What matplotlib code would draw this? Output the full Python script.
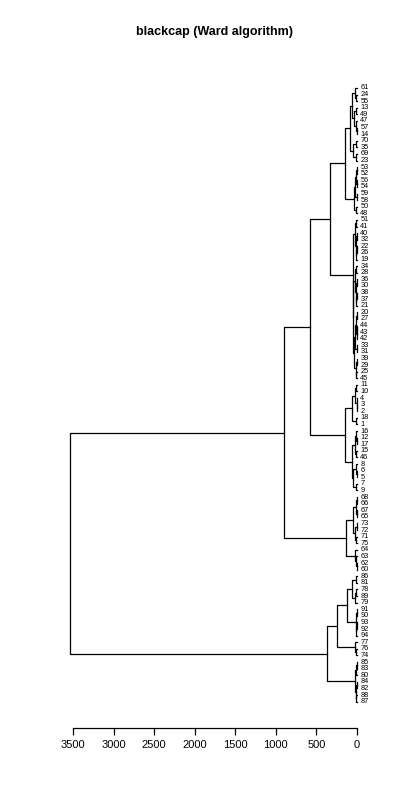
import matplotlib
matplotlib.use("Agg")
import matplotlib.pyplot as plt

plt.rcParams["font.family"] = ["Liberation Sans", "DejaVu Sans"]

# merge tree: (height, left, right); leaves are bird numbers
A1a = (85, (60, (25, 61, (8, 24, 55)), (40, (10, 13, 49), (18, 47, (5, 57, 14)))),
       (50, (15, 70, 35), (12, 69, 23)))
A1b = (35, (22, (15, (5, 53, 52), (6, 56, 54)), (4, 59, 58)), (10, 50, 48))
A2a = (30, (8, 51, 41), (18, (6, 40, 32), (10, (4, 22, 26), 19)))
A2b = (45, (25, (10, 34, 28), (15, (4, 36, 30), (8, (3, 38, 37), 21))),
       (35, (20, (12, (5, 20, 27), (6, (3, 44, 43), 42)), (4, 33, 31)),
        (15, (6, 39, 29), (7, 25, 45))))
A = (333, (150, A1a, A1b), (50, A2a, A2b))

B1 = (60, (25, (10, 11, 10), (5, 4, (2, 3, 2))), (15, 18, 1))
B2 = (60, (30, (12, 16, (5, 12, 17)), (8, 15, 46)), (45, (10, 8, (4, 6, 5)), (15, 7, 9)))
B = (148, B1, B2)

C1 = (50, (12, (5, 68, 66), (6, 67, 65)), (25, (5, 73, 72), (10, 71, 75)))
C2 = (25, 64, (10, 63, (4, 62, 60)))
C = (140, C1, C2)

D1a = (120, (65, (15, 86, 81), (30, (10, 78, 89), 79)),
       (15, (5, 91, 90), (8, (4, 93, 92), 94)))
D1b = (20, 77, (8, 76, 74))
D2 = (20, (10, (6, 85, 83), 80), (12, (4, 84, 82), (8, 88, 87)))
D = (375, (250, D1a, D1b), D2)

root = (3540, (900, (580, A, B), C), D)

xticks = [0, 500, 1000, 1500, 2000, 2500, 3000, 3500]

fig = plt.figure(figsize=(4, 8), dpi=100)
ax = fig.add_axes([55 / 400, 72 / 800, 310 / 400, 648 / 800])

counter = [0]


def draw(node):
    if isinstance(node, int):
        y = counter[0]
        counter[0] += 1
        ax.text(-40, y, str(node), fontsize=5.3, ha="left", va="center")
        return y, 0
    h, left, right = node
    yl, hl = draw(left)
    yr, hr = draw(right)
    ax.plot([hl, h, h, hr], [yl, yl, yr, yr], color="black", lw=0.9)
    return (yl + yr) / 2, h


draw(root)

px = 0.0811  # pixels per height unit
ax.set_xlim((357 - 55) / px, (357 - 365) / px)
ax.set_ylim(97.0, -1.21)
ax.set_yticks([])
ax.set_xticks(xticks)
ax.set_xticklabels([str(t) for t in xticks], fontsize=8)
ax.tick_params(axis="x", length=5, width=0.9, pad=4)
for s in ["left", "right", "top"]:
    ax.spines[s].set_visible(False)
ax.spines["bottom"].set_bounds(0, 3500)
ax.spines["bottom"].set_linewidth(0.9)

fig.text(214 / 400, 1 - 32 / 800, "blackcap (Ward algorithm)", fontsize=9,
         fontweight="bold", ha="center", va="center")

fig.savefig("out.png", dpi=100)
